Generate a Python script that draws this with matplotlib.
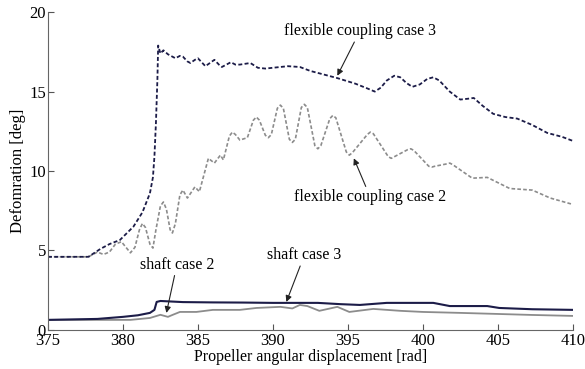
import matplotlib
matplotlib.use("Agg")
import matplotlib.pyplot as plt

# ---- data ----
flex3_x = [375, 377.7, 378.5, 379.1, 379.8, 380.7, 381.3, 381.8, 382.0, 382.1, 382.2,
           382.3, 382.35, 382.5, 382.7, 383.0, 383.3, 383.5, 383.8, 384.0, 384.3, 384.5,
           384.8, 385.0, 385.3, 385.5, 385.8, 386.1, 386.4, 386.6, 386.9, 387.2, 387.5,
           387.8, 388.5, 389.0, 389.5, 390, 391, 391.8, 392.5, 393.3, 394.3, 395.5,
           396.3, 396.8, 397.2, 397.6, 398.1, 398.5, 398.9, 399.3, 399.8, 400.3, 400.7,
           401.1, 401.8, 402.5, 403.0, 403.4, 404.0, 404.7, 405.5, 406.3, 407.3, 408.3,
           409.3, 410]
flex3_y = [4.6, 4.6, 5.1, 5.4, 5.66, 6.5, 7.4, 8.6, 9.6, 10.9, 13.0,
           15.8, 17.9, 17.4, 17.6, 17.35, 17.2, 17.1, 17.25, 17.2, 16.9, 16.8,
           17.0, 17.1, 16.8, 16.6, 16.8, 17.0, 16.7, 16.55, 16.7, 16.85, 16.7,
           16.7, 16.8, 16.5, 16.45, 16.5, 16.6, 16.55, 16.3, 16.1, 15.85, 15.5,
           15.2, 15.0, 15.25, 15.7, 16.0, 15.9, 15.55, 15.3, 15.45, 15.8, 15.9,
           15.7, 15.0, 14.5, 14.55, 14.6, 14.1, 13.6, 13.4, 13.3, 12.9, 12.4,
           12.15, 11.9]

flex2_x = [375, 377.7, 378.3, 378.7, 379.1, 379.5, 379.9, 380.2, 380.5, 380.8, 381.1,
           381.3, 381.5, 381.8, 382.0, 382.2, 382.5, 382.7, 382.9, 383.15, 383.3, 383.5,
           383.8, 384.0, 384.3, 384.8, 385.1, 385.7, 386.1, 386.5, 386.7, 387.1, 387.3,
           387.5, 387.8, 388.3, 388.7, 388.9, 389.1, 389.5, 389.7, 389.9, 390.3, 390.5,
           390.7, 391.1, 391.3, 391.5, 391.9, 392.1, 392.3, 392.8, 393.0, 393.2, 393.8,
           394.0, 394.2, 394.9, 395.1, 395.3, 396.3, 396.5, 396.7, 397.7, 397.9, 398.1,
           399.0, 399.2, 399.4, 400.4, 400.6, 400.8, 401.6, 401.8, 402.0, 403.3, 404.3,
           405.8, 407.3, 408.5, 410]
flex2_y = [4.6, 4.6, 4.9, 4.75, 4.9, 5.4, 5.55, 5.2, 4.85, 5.2, 6.3,
           6.7, 6.45, 5.4, 5.15, 6.3, 7.8, 8.05, 7.6, 6.3, 6.1, 6.7,
           8.5, 8.8, 8.3, 9.0, 8.7, 10.8, 10.5, 11.0, 10.7, 12.2, 12.45,
           12.3, 11.95, 12.1, 13.2, 13.4, 13.2, 12.25, 12.1, 12.3, 13.95, 14.15,
           13.95, 12.0, 11.8, 12.0, 14.0, 14.2, 14.0, 11.6, 11.4, 11.6, 13.3,
           13.5, 13.35, 11.2, 11.0, 11.15, 12.3, 12.45, 12.35, 10.9, 10.8, 10.9,
           11.35, 11.4, 11.3, 10.3, 10.25, 10.3, 10.45, 10.5, 10.4, 9.55, 9.6,
           8.9, 8.8, 8.3, 7.9]

shaft3_x = [375, 378.3, 380.0, 381.0, 381.8, 382.1, 382.25, 382.5, 384, 386, 388, 390, 393,
            394.5, 395.8, 397.6, 400.7, 401.8, 404.3, 405.1, 407.3, 410]
shaft3_y = [0.63, 0.69, 0.82, 0.92, 1.07, 1.26, 1.76, 1.82, 1.75, 1.73, 1.72, 1.7, 1.7,
            1.62, 1.57, 1.7, 1.7, 1.5, 1.5, 1.38, 1.3, 1.26]

shaft2_x = [375, 380.5, 381.8, 382.5, 383.0, 383.3, 383.8, 384.9, 386.0, 387.8, 388.9, 390.5,
            391.3, 391.8, 392.3, 393.1, 394.3, 395.1, 396.7, 398.5, 400.0, 402.5, 405.1,
            407.3, 410]
shaft2_y = [0.63, 0.63, 0.75, 0.95, 0.82, 0.94, 1.13, 1.13, 1.26, 1.26, 1.38, 1.45,
            1.35, 1.57, 1.5, 1.2, 1.45, 1.13, 1.32, 1.2, 1.13, 1.07, 1.0, 0.94, 0.88]

x_ticks = [375, 380, 385, 390, 395, 400, 405, 410]
y_ticks = [0, 5, 10, 15, 20]

labels = ["flexible coupling case 3", "flexible coupling case 2", "shaft case 2", "shaft case 3"]

plt.rcParams['font.family'] = ['Liberation Serif', 'DejaVu Serif']

fig = plt.figure(figsize=(5.85, 3.69), dpi=100)
ax = fig.add_axes([0.082, 0.106, 0.897, 0.861])

dark = '#1c1c48'
gray = '#8c8c8c'
ax.plot(flex2_x, flex2_y, color=gray, lw=1.2, dashes=(2.2, 1.3))
ax.plot(flex3_x, flex3_y, color=dark, lw=1.3, dashes=(2.2, 1.3))
ax.plot(shaft2_x, shaft2_y, color=gray, lw=1.3)
ax.plot(shaft3_x, shaft3_y, color=dark, lw=1.5)

ax.set_xlim(375, 410)
ax.set_ylim(0, 20)
ax.set_xticks(x_ticks)
ax.set_yticks(y_ticks)
ax.tick_params(direction='in', labelsize=12, length=4, colors='#555555', labelcolor='black')
ax.tick_params(axis='y', pad=1.5)
ax.tick_params(axis='x', pad=2)
for s in ['top', 'right']:
    ax.spines[s].set_visible(False)
for s in ['left', 'bottom']:
    ax.spines[s].set_color('#666666')

ax.set_xlabel('Propeller angular displacement [rad]', fontsize=11.5, labelpad=0)
ax.set_ylabel('Defomration [deg]', fontsize=12, labelpad=2)

arrow = dict(arrowstyle='-|>', color='#222222', lw=0.8, mutation_scale=9, shrinkA=0, shrinkB=0)
ax.annotate(labels[0], xy=(394.3, 16.0), xytext=(395.8, 18.8), ha='center', va='center',
            fontsize=11.5, arrowprops=arrow)
ax.annotate(labels[1], xy=(395.4, 10.8), xytext=(396.5, 8.35), ha='center', va='center',
            fontsize=11.5, arrowprops=arrow)
ax.annotate(labels[2], xy=(382.9, 1.07), xytext=(383.6, 4.1), ha='center', va='center',
            fontsize=11.5, arrowprops=arrow)
ax.annotate(labels[3], xy=(390.9, 1.76), xytext=(392.1, 4.7), ha='center', va='center',
            fontsize=11.5, arrowprops=arrow)

fig.savefig('out.png', dpi=100)
